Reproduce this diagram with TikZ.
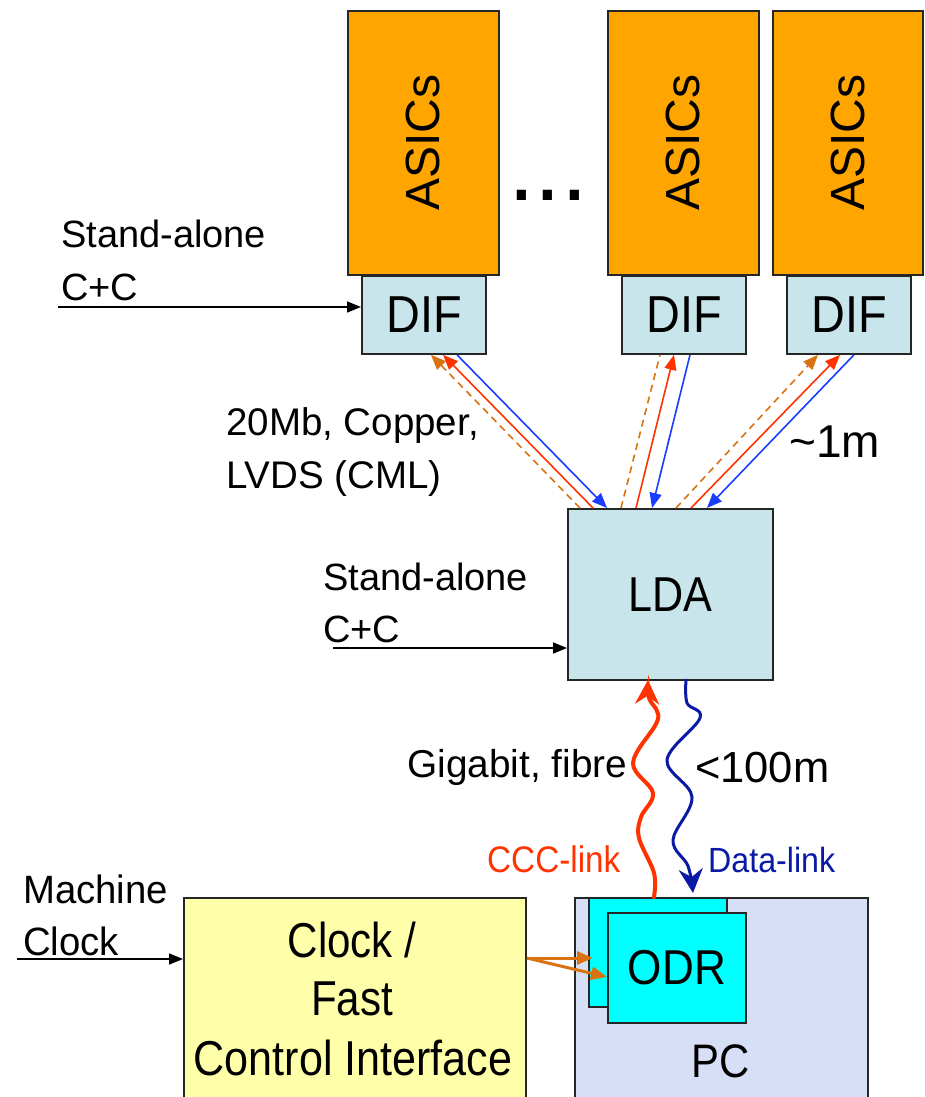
\documentclass[tikz,border=0pt]{standalone}
\usepackage{fontspec}
\setmainfont{Liberation Sans}
\usepackage{graphicx}
\usetikzlibrary{arrows.meta}
\definecolor{asicc}{HTML}{FFA500}
\definecolor{difc}{HTML}{C7E5EA}
\definecolor{clkc}{HTML}{FFFFAA}
\definecolor{pcc}{HTML}{D7DFF6}
\definecolor{odrc}{HTML}{00FFFF}
\definecolor{redl}{HTML}{FF3300}
\definecolor{bluel}{HTML}{1A3CFF}
\definecolor{dbluel}{HTML}{0A1AA5}
\definecolor{orl}{HTML}{D97310}
\newcommand{\fsz}[1]{\fontsize{#1}{#1}\selectfont}
\newcommand{\xsc}[2]{\scalebox{#1}[1]{#2}}
\begin{document}
\begin{tikzpicture}[x=1pt,y=-1pt,
  box/.style={draw=black!85, line width=1.8pt, anchor=north west, inner sep=0pt},
  lbl/.style={anchor=base west, inner sep=0pt},
  clbl/.style={anchor=base, inner sep=0pt},
  thinarr/.style={line width=1.6pt, -{Triangle[length=15pt,width=12pt]}},
  redc/.style={thinarr, draw=redl, -{Triangle[length=15pt,width=12pt]}},
  bluec/.style={thinarr, draw=bluel},
  orc/.style={thinarr, draw=orl, dash pattern=on 7pt off 5pt},
  blkarr/.style={line width=1.6pt, draw=black, -{Triangle[length=14pt,width=11pt]}},
  orarr/.style={line width=3pt, draw=orl, -{Triangle[length=16pt,width=13pt]}},
  wave/.style={line width=4pt, line cap=round, -{Stealth[length=24pt,width=24pt,inset=8pt]}}
]
\useasboundingbox (0,0) rectangle (924,1097);
\clip (0,0) rectangle (924,1097);

% ASICs
\node[box, fill=asicc, minimum width=151pt, minimum height=264pt] (as1) at (347,10) {};
\node[box, fill=asicc, minimum width=151pt, minimum height=264pt] (as2) at (607,10) {};
\node[box, fill=asicc, minimum width=150pt, minimum height=264pt] (as3) at (772,10) {};
\node[rotate=90, inner sep=0pt] (t1) at (as1.center) {\fsz{48}ASICs};
\node[rotate=90, inner sep=0pt] (t2) at (as2.center) {\fsz{48}ASICs};
\node[rotate=90, inner sep=0pt] (t3) at (as3.center) {\fsz{48}ASICs};
\node[lbl] (dots) at (508,200) {\fsz{96}...};

% DIFs
\node[box, fill=difc, minimum width=124pt, minimum height=78pt] (dif1) at (361,275) {\fsz{52}\xsc{0.9}{DIF}};
\node[box, fill=difc, minimum width=124pt, minimum height=78pt] (dif2) at (621,275) {\fsz{52}\xsc{0.9}{DIF}};
\node[box, fill=difc, minimum width=124pt, minimum height=78pt] (dif3) at (786,275) {\fsz{52}\xsc{0.9}{DIF}};

% LDA
\node[box, fill=difc, minimum width=205pt, minimum height=171pt] (lda) at (567,508) {\fsz{49}\xsc{0.88}{LDA}};

% DIF <-> LDA links
\draw[orc] (580,0 |- lda.north) -- (431,0 |- dif1.south);
\draw[redc] (593,0 |- lda.north) -- (443,0 |- dif1.south);
\draw[bluec] (457,0 |- dif1.south) -- (607,0 |- lda.north);
\draw[orc, -] (621,0 |- lda.north) -- (660,0 |- dif2.south);
\draw[redc] (636,0 |- lda.north) -- (674,0 |- dif2.south);
\draw[bluec] (690,0 |- dif2.south) -- (652,0 |- lda.north);
\draw[orc] (676,0 |- lda.north) -- (818,0 |- dif3.south);
\draw[redc] (691,0 |- lda.north) -- (840,0 |- dif3.south);
\draw[bluec] (854,0 |- dif3.south) -- (707,0 |- lda.north);

% Stand-alone labels
\node[lbl] (sa1a) at (61,247) {\fsz{38}Stand-alone};
\node[lbl] (sa1b) at (61,300) {\fsz{38}C+C};
\coordinate (sa1) at (58,307);
\draw[blkarr] (sa1) -- (sa1 -| dif1.west);

\node[lbl] (sa2a) at (323,590) {\fsz{38}Stand-alone};
\node[lbl] (sa2b) at (323,642) {\fsz{38}C+C};
\coordinate (sa2) at (333,648);
\draw[blkarr] (sa2) -- (sa2 -| lda.west);

\node[lbl] (cu1) at (226,435) {\fsz{38.5}20Mb, Copper,};
\node[lbl] (cu2) at (226,488) {\fsz{38.5}LVDS (CML)};
\node[lbl] (len1) at (789,457) {\fsz{46}\textasciitilde1m};

% bottom boxes
\node[box, fill=pcc, minimum width=293pt, minimum height=260pt] (pc) at (574,897) {};
\node[box, fill=odrc, minimum width=138pt, minimum height=109pt] (odrb) at (588,897) {};
\node[box, fill=odrc, minimum width=138pt, minimum height=110pt] (odrf) at (607,912) {\fsz{49}\xsc{0.9}{ODR}};
\node[clbl] (pct) at (721,1077) {\fsz{47}\xsc{0.89}{PC}};

\node[box, fill=clkc, minimum width=342pt, minimum height=260pt] (clk) at (183,897) {};
\node[clbl] (ck1) at (352,957) {\fsz{49}\xsc{0.86}{Clock /}};
\node[clbl] (ck2) at (352,1015) {\fsz{49}\xsc{0.86}{Fast}};
\node[clbl] (ck3) at (353,1075) {\fsz{49}\xsc{0.88}{Control Interface}};

\node[lbl] (mc1) at (23,903) {\fsz{39.5}\xsc{0.97}{Machine}};
\node[lbl] (mc2) at (23,955) {\fsz{39.5}\xsc{0.97}{Clock}};
\coordinate (mc) at (17,959);
\draw[blkarr] (mc) -- (mc -| clk.west);

\coordinate (ckout) at (clk.east |- 0,958);
\draw[orarr] (ckout) -- (593,0 |- 0,958);
\draw[orarr] (ckout) -- (odrf.west |- 0,977);

% gigabit links
\draw[wave, draw=redl] plot[smooth, tension=0.6] coordinates {(654,897) (654,873) (639,838) (641,817) (653,793) (633,763) (656,724) (657,711) (649,698) (648,680)};
\draw[wave, draw=dbluel, line width=3pt] plot[smooth, tension=0.6] coordinates {(686,680) (687,703) (700,718) (667,760) (692,797) (673,840) (688,866) (693,893)};

\node[lbl] (gig) at (407,777) {\fsz{38.8}Gigabit, fibre};
\node[lbl] (len2) at (695,782) {\fsz{43.5}<100m};
\node[lbl, text=redl] (ccc) at (487,872) {\fsz{37}\xsc{0.9}{CCC-link}};
\node[lbl, text=dbluel] (dat) at (708,872) {\fsz{35}\xsc{0.92}{Data-link}};
\end{tikzpicture}
\end{document}
